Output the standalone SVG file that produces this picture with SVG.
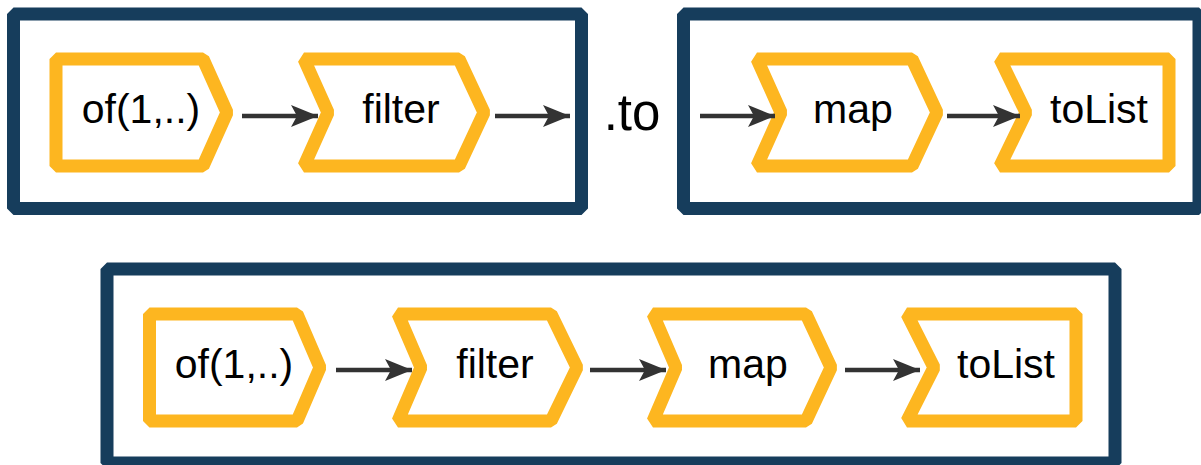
<svg xmlns="http://www.w3.org/2000/svg" width="1201" height="465" viewBox="0 0 1201 465">
<style>
.box{fill:#fff;stroke:#163d5c;stroke-width:13;stroke-linejoin:bevel}
.node{fill:#fff;stroke:#fdb620;stroke-width:13;stroke-linejoin:bevel}
.lbl{font-family:"Liberation Sans",Arial,sans-serif;font-size:41px;fill:#000;text-anchor:middle}
.edge{stroke:#333;stroke-width:4.5;fill:none;marker-end:url(#ah)}
</style>
<defs>
<marker id="ah" markerUnits="userSpaceOnUse" markerWidth="30" markerHeight="24" refX="27" refY="12" orient="auto">
<path d="M0,1 L27,12 L0,23 L6,12 z" fill="#333"/>
</marker>
</defs>
<g id="box1"><rect class="box" x="13.5" y="14" width="568" height="194.5"/></g>
<g id="box2"><rect class="box" x="683.5" y="14" width="515.5" height="194.5"/></g>
<g id="box3"><rect class="box" x="107" y="269" width="1008" height="194"/></g>
<g id="to-label"><text class="lbl" x="632" y="130" style="font-size:51px">.to</text></g>

<g id="n-of-top"><polygon class="node" points="56,59 203,59 227,112.5 203,166 56,166"/><text class="lbl" x="141" y="123">of(1,..)</text></g>
<g id="n-filter-top"><polygon class="node" points="304,59 459,59 484,112.5 459,166 304,166 328,112.5"/><text class="lbl" x="401" y="123">filter</text></g>
<g id="n-map-top"><polygon class="node" points="757,59 912,59 937,112.5 912,166 757,166 781,112.5"/><text class="lbl" x="853" y="123">map</text></g>
<g id="n-tolist-top"><polygon class="node" points="1000,59 1169,59 1169,166 1000,166 1026,112.5"/><text class="lbl" x="1099" y="123">toList</text></g>

<g id="n-of-bot"><polygon class="node" points="149.5,314 297,314 320,367.5 297,421 149.5,421"/><text class="lbl" x="234" y="378">of(1,..)</text></g>
<g id="n-filter-bot"><polygon class="node" points="398,314 551,314 577,367.5 551,421 398,421 421,367.5"/><text class="lbl" x="495" y="378">filter</text></g>
<g id="n-map-bot"><polygon class="node" points="653,314 806,314 831,367.5 806,421 653,421 676,367.5"/><text class="lbl" x="748" y="378">map</text></g>
<g id="n-tolist-bot"><polygon class="node" points="907,314 1076,314 1076,421 907,421 934,367.5"/><text class="lbl" x="1006" y="378">toList</text></g>

<g id="connectors">
<line class="edge" x1="242" y1="116" x2="318" y2="116"/>
<line class="edge" x1="495" y1="116" x2="570" y2="116"/>
<line class="edge" x1="700" y1="116" x2="775" y2="116"/>
<line class="edge" x1="947" y1="116" x2="1020" y2="116"/>
<line class="edge" x1="336" y1="370" x2="412" y2="370"/>
<line class="edge" x1="590" y1="370" x2="666" y2="370"/>
<line class="edge" x1="845" y1="370" x2="920" y2="370"/>
</g>
</svg>
